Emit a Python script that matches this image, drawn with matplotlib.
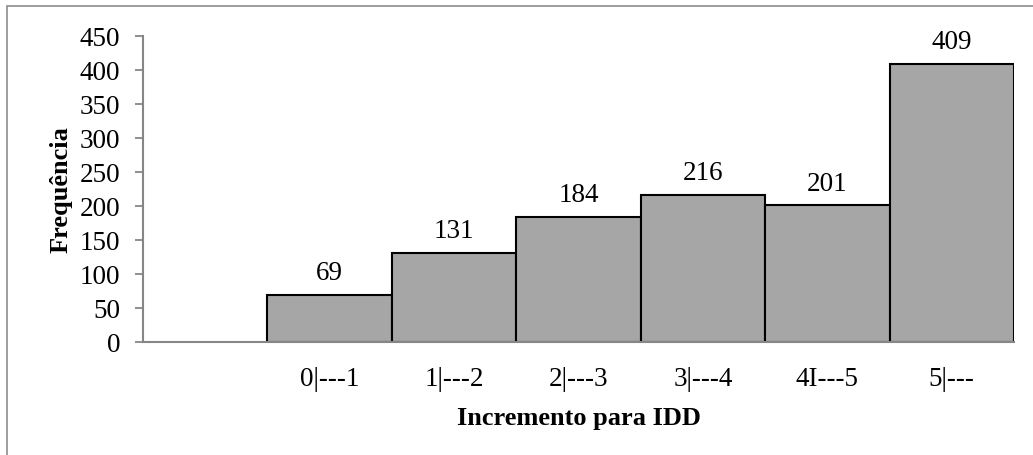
import matplotlib
matplotlib.use("Agg")
import matplotlib.pyplot as plt
import numpy as np

# increment classes (first slot left empty on the axis)
categories = ["", "0|---1", "1|---2", "2|---3", "3|---4", "4I---5", "5|---"]
frequencies = [None, 69, 131, 184, 216, 201, 409]

plt.rcParams['font.family'] = ['Liberation Serif', 'DejaVu Serif']
plt.rcParams['font.size'] = 19.5

fig = plt.figure(figsize=(10.33, 4.56), dpi=100)
W, H = 1033, 456
ax = fig.add_axes([143 / W, 1 - 343 / H, (1014 - 143) / W, (343 - 37) / H])

# chart area border
fig.patches.append(plt.Rectangle((7 / W, -0.05), 1.2, 1 - 7 / H + 0.05,
                                 transform=fig.transFigure, fill=False,
                                 edgecolor="#8c8c8c", linewidth=1.2))

x = np.arange(len(categories))
idx = [i for i, v in enumerate(frequencies) if v is not None]
vals = [frequencies[i] for i in idx]
bars = ax.bar(idx, vals, width=1.0, color="#a6a6a6", edgecolor="black",
              linewidth=1.5, zorder=2)

for b, v in zip(bars, vals):
    ax.annotate(str(v), (b.get_x() + b.get_width() / 2, v),
                xytext=(0, 7), textcoords="offset points",
                ha="center", va="bottom", fontsize=19.5)

ax.set_xlim(-0.5, len(categories) - 0.5)
ax.set_ylim(0, 450)
ax.set_yticks(np.arange(0, 451, 50))
ax.set_xticks(x)
ax.set_xticklabels(categories)

for s in ["top", "right"]:
    ax.spines[s].set_visible(False)
for s in ["left", "bottom"]:
    ax.spines[s].set_color("#868686")
    ax.spines[s].set_linewidth(1.5)
ax.spines["bottom"].set_zorder(3)

ax.tick_params(axis="y", length=6, width=1.3, color="#868686", pad=10.5)
ax.tick_params(axis="x", length=0, pad=17)

ax.set_xlabel("Incremento para IDD", fontweight="bold", fontsize=19, labelpad=11)
ax.set_ylabel("Frequência", fontweight="bold", fontsize=19, labelpad=5)

fig.savefig("out.png", dpi=100)
